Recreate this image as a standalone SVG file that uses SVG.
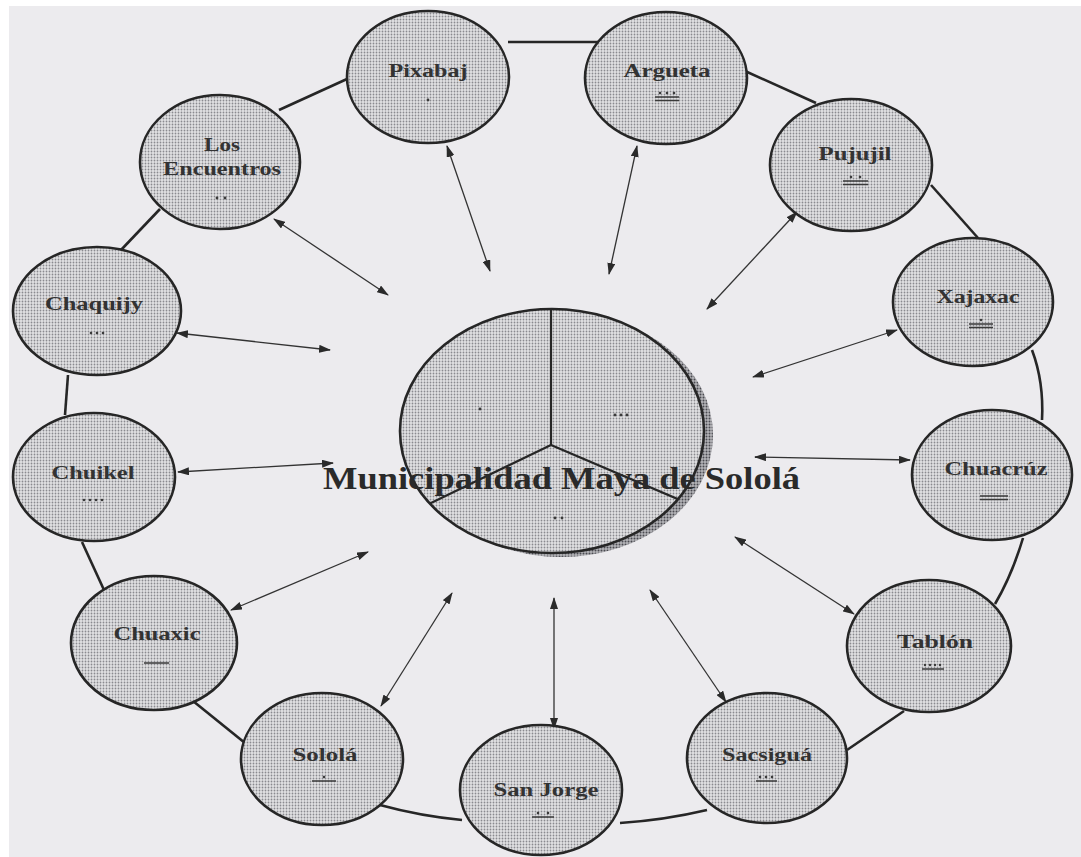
<svg xmlns="http://www.w3.org/2000/svg" width="1081" height="857" viewBox="0 0 1081 857">
<defs>
<style>
.node{fill:url(#dots);stroke:#262626;stroke-width:2.6}
.lbl{font-family:"Liberation Serif","Times New Roman",serif;font-weight:bold;font-size:18.5px;fill:#333;text-anchor:middle}
.ring{fill:none;stroke:#262626;stroke-width:2.6}
.arr{fill:none;stroke:#333;stroke-width:1.3;marker-start:url(#ah);marker-end:url(#ah)}
.d{fill:#3a3a3a}
.b{stroke:#3a3a3a;stroke-width:1.5}
.title{font-family:"Liberation Serif","Times New Roman",serif;font-weight:bold;font-size:31px;fill:#2a2a2a}
</style>
<pattern id="dots" width="3" height="3" patternUnits="userSpaceOnUse"><rect width="3" height="3" fill="#e1e1e3"/><circle cx="1.5" cy="1.5" r="0.9" fill="#8a8a8f"/></pattern>
<pattern id="dots2" width="3" height="3" patternUnits="userSpaceOnUse"><rect width="3" height="3" fill="#b4b4b8"/><circle cx="1.5" cy="1.5" r="1" fill="#4a4a50"/></pattern>
<marker id="ah" viewBox="0 0 12 8" refX="11" refY="4" markerWidth="12" markerHeight="8" markerUnits="userSpaceOnUse" orient="auto-start-reverse"><path d="M0,0 L12,4 L0,8 Z" fill="#2a2a2a"/></marker>
<clipPath id="pieclip"><ellipse cx="552" cy="431" rx="152" ry="122"/></clipPath>
</defs>
<rect width="1081" height="857" fill="#ffffff"/>
<rect x="9" y="6" width="1072" height="851" fill="#ecebee"/>

<g id="connectors">
<path class="ring" d="M121,250 L160,209"/>
<path class="ring" d="M279,110 L347,79"/>
<path class="ring" d="M508,42 L598,42"/>
<path class="ring" d="M745,71 L816,103"/>
<path class="ring" d="M931,185 L978,238"/>
<path class="ring" d="M1032,350 Q1044,382 1042,420"/>
<path class="ring" d="M1023,538 Q1012,575 995,604"/>
<path class="ring" d="M904,711 L847,750"/>
<path class="ring" d="M707,810 Q665,820 620,823"/>
<path class="ring" d="M380,805 Q420,816 462,820"/>
<path class="ring" d="M193,701 L245,743"/>
<path class="ring" d="M82,542 L104,590"/>
<path class="ring" d="M68,375 L65,415"/>
<path class="arr" d="M274,219 L388,295"/>
<path class="arr" d="M447,146 L490,271"/>
<path class="arr" d="M637,146 L609,274"/>
<path class="arr" d="M797,212 L707,309"/>
<path class="arr" d="M897,330 L753,377"/>
<path class="arr" d="M910,460 L755,457"/>
<path class="arr" d="M854,614 L735,537"/>
<path class="arr" d="M726,702 L650,590"/>
<path class="arr" d="M554,729 L554,598"/>
<path class="arr" d="M381,706 L452,593"/>
<path class="arr" d="M231,610 L368,552"/>
<path class="arr" d="M178,472 L333,463"/>
<path class="arr" d="M177,333 L330,350"/>
</g>

<g id="center">
<ellipse cx="561" cy="435" rx="152" ry="122" fill="url(#dots2)"/>
<ellipse cx="552" cy="431" rx="152" ry="122" fill="url(#dots)"/>
<g clip-path="url(#pieclip)" stroke="#262626" stroke-width="2.2">
<line x1="551" y1="300" x2="551" y2="445"/>
<line x1="551" y1="445" x2="400" y2="518"/>
<line x1="551" y1="445" x2="715" y2="515"/>
</g>
<ellipse cx="552" cy="431" rx="152" ry="122" fill="none" stroke="#262626" stroke-width="2.6"/>
<circle class="d" cx="480" cy="409" r="1.4"/>
<circle class="d" cx="615" cy="415" r="1.4"/><circle class="d" cx="621" cy="415" r="1.4"/><circle class="d" cx="627" cy="415" r="1.4"/>
<circle class="d" cx="555" cy="518" r="1.4"/><circle class="d" cx="562" cy="518" r="1.4"/>
<text class="title" x="323" y="489" textLength="477" lengthAdjust="spacingAndGlyphs">Municipalidad Maya de Sololá</text>
</g>

<g id="pixabaj">
<ellipse class="node" cx="428" cy="77" rx="81" ry="66"/>
<text class="lbl" x="428" y="77" textLength="79" lengthAdjust="spacingAndGlyphs">Pixabaj</text>
<circle class="d" cx="428" cy="100" r="1.4"/>
</g>
<g id="los-encuentros">
<ellipse class="node" cx="220" cy="162" rx="80" ry="67"/>
<text class="lbl" x="222" y="151" textLength="36" lengthAdjust="spacingAndGlyphs">Los</text>
<text class="lbl" x="222" y="175" textLength="118" lengthAdjust="spacingAndGlyphs">Encuentros</text>
<circle class="d" cx="217" cy="198" r="1.4"/><circle class="d" cx="225" cy="198" r="1.4"/>
</g>
<g id="argueta">
<ellipse class="node" cx="666" cy="78" rx="81" ry="66"/>
<text class="lbl" x="667" y="77" textLength="87" lengthAdjust="spacingAndGlyphs">Argueta</text>
<circle class="d" cx="660" cy="93" r="1.3"/><circle class="d" cx="667" cy="93" r="1.3"/><circle class="d" cx="674" cy="93" r="1.3"/>
<line class="b" x1="655" y1="97" x2="679" y2="97"/><line class="b" x1="655" y1="100.5" x2="679" y2="100.5"/>
</g>
<g id="pujujil">
<ellipse class="node" cx="851" cy="165" rx="81" ry="66"/>
<text class="lbl" x="855" y="160" textLength="73" lengthAdjust="spacingAndGlyphs">Pujujil</text>
<circle class="d" cx="851" cy="177" r="1.3"/><circle class="d" cx="860" cy="177" r="1.3"/>
<line class="b" x1="843" y1="181" x2="868" y2="181"/><line class="b" x1="843" y1="184.5" x2="868" y2="184.5"/>
</g>
<g id="xajaxac">
<ellipse class="node" cx="973" cy="302" rx="80" ry="64"/>
<text class="lbl" x="978" y="303" textLength="83" lengthAdjust="spacingAndGlyphs">Xajaxac</text>
<circle class="d" cx="981" cy="320" r="1.3"/>
<line class="b" x1="969" y1="324" x2="993" y2="324"/><line class="b" x1="969" y1="327.5" x2="993" y2="327.5"/>
</g>
<g id="chuacruz">
<ellipse class="node" cx="992" cy="475" rx="80" ry="65"/>
<text class="lbl" x="996" y="475" textLength="103" lengthAdjust="spacingAndGlyphs">Chuacrúz</text>
<line class="b" x1="980" y1="496" x2="1008" y2="496"/><line class="b" x1="980" y1="499.5" x2="1008" y2="499.5"/>
</g>
<g id="tablon">
<ellipse class="node" cx="929" cy="646" rx="82" ry="66"/>
<text class="lbl" x="935" y="648" textLength="76" lengthAdjust="spacingAndGlyphs">Tablón</text>
<circle class="d" cx="925" cy="665" r="1.2"/><circle class="d" cx="930" cy="665" r="1.2"/><circle class="d" cx="935" cy="665" r="1.2"/><circle class="d" cx="940" cy="665" r="1.2"/>
<line class="b" x1="922" y1="669" x2="944" y2="669"/>
</g>
<g id="sacsigua">
<ellipse class="node" cx="767" cy="758" rx="80" ry="65"/>
<text class="lbl" x="767" y="761" textLength="90" lengthAdjust="spacingAndGlyphs">Sacsiguá</text>
<circle class="d" cx="760" cy="777" r="1.3"/><circle class="d" cx="766" cy="777" r="1.3"/><circle class="d" cx="772" cy="777" r="1.3"/>
<line class="b" x1="756" y1="781" x2="777" y2="781"/>
</g>
<g id="san-jorge">
<ellipse class="node" cx="541" cy="790" rx="81" ry="65"/>
<text class="lbl" x="546" y="796" textLength="105" lengthAdjust="spacingAndGlyphs">San Jorge</text>
<circle class="d" cx="538" cy="813" r="1.3"/><circle class="d" cx="548" cy="813" r="1.3"/>
<line class="b" x1="532" y1="817" x2="554" y2="817"/>
</g>
<g id="solola">
<ellipse class="node" cx="322" cy="759" rx="81" ry="66"/>
<text class="lbl" x="325" y="761" textLength="65" lengthAdjust="spacingAndGlyphs">Sololá</text>
<circle class="d" cx="324" cy="777" r="1.3"/>
<line class="b" x1="312" y1="781" x2="336" y2="781"/>
</g>
<g id="chuaxic">
<ellipse class="node" cx="154" cy="643" rx="83" ry="67"/>
<text class="lbl" x="157" y="640" textLength="87" lengthAdjust="spacingAndGlyphs">Chuaxic</text>
<line class="b" x1="144" y1="663" x2="169" y2="663"/>
</g>
<g id="chuikel">
<ellipse class="node" cx="94" cy="477" rx="81" ry="64"/>
<text class="lbl" x="93" y="479" textLength="83" lengthAdjust="spacingAndGlyphs">Chuikel</text>
<circle class="d" cx="84" cy="500" r="1.3"/><circle class="d" cx="90" cy="500" r="1.3"/><circle class="d" cx="96" cy="500" r="1.3"/><circle class="d" cx="102" cy="500" r="1.3"/>
</g>
<g id="chaquijy">
<ellipse class="node" cx="97" cy="311" rx="84" ry="64"/>
<text class="lbl" x="94" y="310" textLength="98" lengthAdjust="spacingAndGlyphs">Chaquijy</text>
<circle class="d" cx="91" cy="333" r="1.3"/><circle class="d" cx="97" cy="333" r="1.3"/><circle class="d" cx="103" cy="333" r="1.3"/>
</g>
</svg>
